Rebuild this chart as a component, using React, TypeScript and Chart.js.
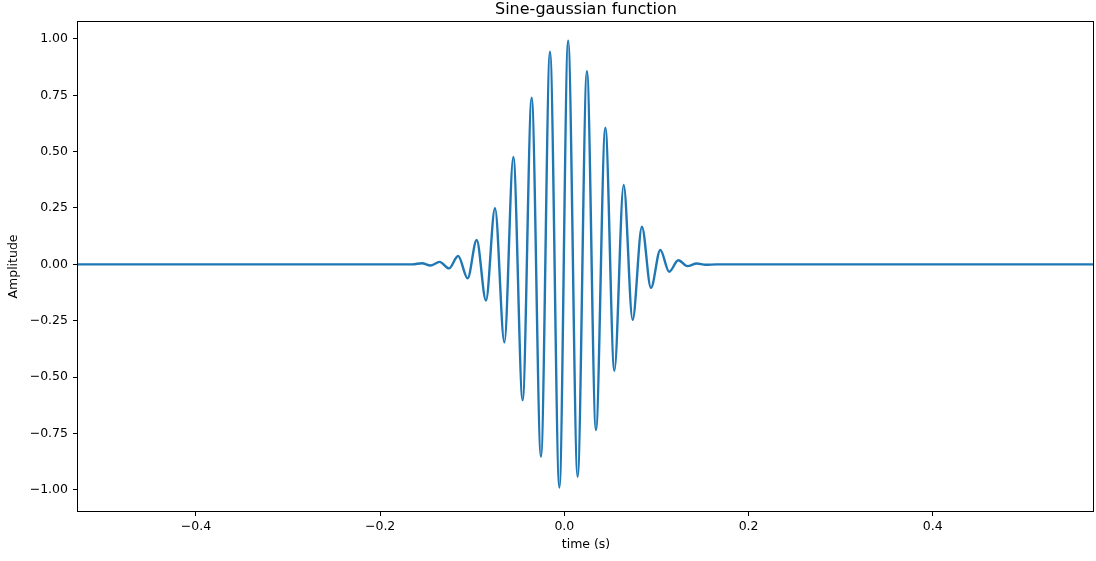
import { useEffect, useRef } from "react";
import { Chart, registerables } from "chart.js";

Chart.register(...registerables);

const TITLE = "Sine-gaussian function";
const X_LABEL = "time (s)";
const Y_LABEL = "Amplitude";
const FONT = "'DejaVu Sans', sans-serif";

// Turning points of the wave packet (time in s, amplitude), plus flat tails.
const times = [
  -0.528, -0.2, -0.165,
  -0.1546, -0.1454, -0.1354, -0.1253, -0.1153, -0.105, -0.0952, -0.0851,
  -0.0753, -0.0651, -0.0554, -0.0453, -0.0355, -0.0254, -0.0156, -0.0054,
  0.0041, 0.0144, 0.0245, 0.0343, 0.0445, 0.0543, 0.0644, 0.0741,
  0.0842, 0.094, 0.1042, 0.1138, 0.1237, 0.1336, 0.1436, 0.1534,
  0.165, 0.2, 0.575,
];
const amplitudes = [
  0, 0, 0,
  0.005, -0.005, 0.011, -0.018, 0.037, -0.062, 0.108, -0.16,
  0.249, -0.346, 0.476, -0.602, 0.739, -0.853, 0.943, -0.99,
  0.992, -0.942, 0.857, -0.735, 0.606, -0.472, 0.352, -0.246,
  0.167, -0.104, 0.064, -0.033, 0.018, -0.008, 0.004, -0.002,
  0, 0, 0,
];

const xTicks = [-0.4, -0.2, 0, 0.2, 0.4];
const yTicks = [-1, -0.75, -0.5, -0.25, 0, 0.25, 0.5, 0.75, 1];
const xLimits = [-0.528, 0.575];
const yLimits = [-1.094, 1.075];

const fmt = (v: number, digits: number) =>
  v.toFixed(digits).replace("-", "\u2212");

// Draws the closed box around the plotting area and the title centred over it.
const framePlugin = {
  id: "frame",
  afterDraw(chart: any) {
    const { ctx, chartArea } = chart;
    const l = Math.round(chartArea.left) - 0.5;
    const t = Math.round(chartArea.top) - 0.5;
    const r = Math.round(chartArea.right) - 0.5;
    const b = Math.round(chartArea.bottom) + 0.5;
    ctx.save();
    ctx.strokeStyle = "#000";
    ctx.lineWidth = 1;
    ctx.strokeRect(l, t, r - l, b - t);
    ctx.fillStyle = "#000";
    ctx.font = `16px ${FONT}`;
    ctx.textAlign = "center";
    ctx.textBaseline = "middle";
    ctx.fillText(TITLE, (chartArea.left + chartArea.right) / 2, 9.5);
    ctx.restore();
  },
};

export default function App() {
  const canvasRef = useRef<HTMLCanvasElement | null>(null);

  useEffect(() => {
    if (!canvasRef.current) return;
    const points = times.map((t, i) => ({ x: t, y: amplitudes[i] }));
    const tickFont = { family: FONT, size: 12.5 };

    const chart = new Chart(canvasRef.current, {
      type: "line",
      data: {
        datasets: [
          {
            data: points,
            borderColor: "#1f77b4",
            borderWidth: 2.4,
            pointRadius: 0,
            fill: false,
            cubicInterpolationMode: "monotone",
          },
        ],
      },
      options: {
        responsive: false,
        animation: false,
        events: [],
        layout: { padding: { left: 0, right: 2, top: 22, bottom: 0 } },
        plugins: {
          legend: { display: false },
          tooltip: { enabled: false },
          title: { display: false },
        },
        scales: {
          x: {
            type: "linear",
            min: xLimits[0],
            max: xLimits[1],
            afterBuildTicks: (scale: any) => {
              scale.ticks = xTicks.map((value) => ({ value }));
            },
            afterFit: (scale: any) => {
              scale.height = 50;
            },
            ticks: {
              color: "#000",
              font: tickFont,
              padding: 3,
              maxRotation: 0,
              autoSkip: false,
              callback: (v: any) => fmt(Number(v), 1),
            },
            grid: {
              drawOnChartArea: false,
              drawTicks: true,
              tickLength: 5,
              tickColor: "#000",
            },
            border: { display: false },
            title: {
              display: true,
              text: X_LABEL,
              color: "#000",
              font: tickFont,
              padding: { top: 0, bottom: 8.5 },
            },
          },
          y: {
            type: "linear",
            min: yLimits[0],
            max: yLimits[1],
            afterBuildTicks: (scale: any) => {
              scale.ticks = yTicks.map((value) => ({ value }));
            },
            afterFit: (scale: any) => {
              scale.width = 78;
            },
            ticks: {
              color: "#000",
              font: tickFont,
              padding: 5,
              autoSkip: false,
              callback: (v: any) => fmt(Number(v), 2),
            },
            grid: {
              drawOnChartArea: false,
              drawTicks: true,
              tickLength: 5,
              tickColor: "#000",
            },
            border: { display: false },
            title: {
              display: true,
              text: Y_LABEL,
              color: "#000",
              font: tickFont,
              padding: { top: 6, bottom: 0 },
            },
          },
        },
      },
      plugins: [framePlugin],
    } as any);

    return () => chart.destroy();
  }, []);

  return (
    <div style={{ position: "absolute", left: 0, top: 0, width: 1096, height: 561 }}>
      <canvas ref={canvasRef} width={1096} height={561} style={{ display: "block" }} />
    </div>
  );
}
